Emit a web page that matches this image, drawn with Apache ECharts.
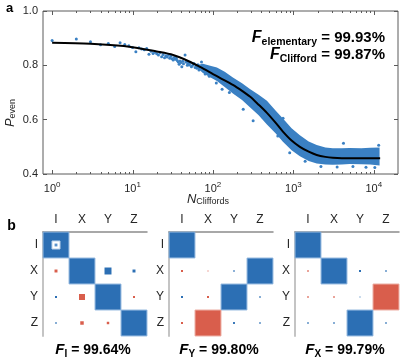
<!DOCTYPE html>
<html>
<head>
<meta charset="utf-8">
<script src="https://cdn.jsdelivr.net/npm/echarts@6/dist/echarts.min.js"></script>
<style>
  html, body { margin: 0; padding: 0; background: #fff; }
  #chart { width: 415px; height: 362px; }
</style>
</head>
<body>
<div id="chart"></div>
<script>
const chart = echarts.init(document.getElementById("chart"));

const FONT = "Liberation Sans, Arial, Helvetica, sans-serif";
const DOT_BLUE = "#3a80c3";
const SQ_BLUE = "#2c6fb4";
const SQ_RED = "#d95e4c";
const AXIS_GREY = "#5a5a5a";

// ---- panel a: randomized benchmarking decay ----
const xMin = 0.77;
const xMax = 20000;
const yTicks = [0.4, 0.6, 0.8, 1.0];

// sparse points at short sequence lengths
const lowN = [1, 2, 3, 4, 5, 6, 7, 8, 9, 10, 11, 12, 13, 14, 15, 16, 17, 18, 19, 20,
  21, 22, 23, 24, 25, 26, 27, 28, 29, 30, 31, 32, 33, 34, 35, 36, 37, 38, 39, 40,
  41, 42, 43, 45, 46, 47, 48, 49, 50, 51, 52, 54, 56, 58, 60, 62, 63, 65, 67, 69];
const lowP = [0.891, 0.897, 0.887, 0.876, 0.880, 0.869, 0.883, 0.877, 0.872, 0.866,
  0.850, 0.865, 0.860, 0.857, 0.862, 0.841, 0.852, 0.844, 0.848, 0.843,
  0.838, 0.846, 0.832, 0.840, 0.828, 0.835, 0.831, 0.838, 0.826, 0.833,
  0.824, 0.820, 0.829, 0.822, 0.826, 0.818, 0.812, 0.804, 0.816, 0.810,
  0.795, 0.815, 0.806, 0.838, 0.812, 0.813, 0.800, 0.808, 0.804, 0.801,
  0.810, 0.795, 0.800, 0.807, 0.792, 0.798, 0.789, 0.802, 0.783, 0.796];

// envelope of the dense cloud at long sequence lengths
const bandN = [62, 75, 90, 112, 140, 177, 230, 288, 370, 469, 600, 741, 950, 1205, 1550,
  1950, 2500, 3090, 4000, 5000, 7000, 9000, 11800];
const bandHi = [0.800, 0.806, 0.799, 0.792, 0.776, 0.755, 0.734, 0.713, 0.692, 0.670, 0.634,
  0.604, 0.568, 0.543, 0.520, 0.507, 0.498, 0.495, 0.495, 0.496, 0.495, 0.497, 0.498];
const bandLo = [0.794, 0.772, 0.758, 0.742, 0.720, 0.696, 0.672, 0.646, 0.616, 0.582, 0.550,
  0.519, 0.487, 0.465, 0.448, 0.439, 0.435, 0.434, 0.435, 0.437, 0.436, 0.435, 0.431];

// stray points sticking out of the cloud
const strayN = [72, 80, 90, 110, 130, 160, 238, 316, 420, 640, 744, 900, 1400,
  2200, 3500, 4200, 5500, 8000, 10300, 11500];
const strayP = [0.812, 0.768, 0.760, 0.735, 0.712, 0.700, 0.638, 0.596, 0.608, 0.540,
  0.605, 0.478, 0.447, 0.428, 0.426, 0.513, 0.428, 0.425, 0.424, 0.506];

// fitted decay curve
const fitN = [1, 3, 10, 20, 32, 50, 69, 100, 122, 177, 230, 288, 370, 469, 600, 741,
  950, 1205, 1550, 1950, 2500, 3090, 5000, 8000, 12000];
const fitP = [0.883, 0.879, 0.867, 0.851, 0.838, 0.815, 0.794, 0.768, 0.754, 0.728,
  0.706, 0.685, 0.655, 0.625, 0.589, 0.556, 0.523, 0.500, 0.482, 0.470, 0.463, 0.460,
  0.458, 0.458, 0.458];

// ---- panel b: process matrices ----
const paulis = ["I", "X", "Y", "Z"];
// [column, row, value]
const chiI = [[0, 0, 0.99], [1, 1, 0.99], [2, 2, 0.99], [3, 3, 0.99],
  [0, 1, -0.013], [2, 1, 0.072], [3, 1, 0.013],
  [0, 2, 0.006], [1, 2, -0.053], [3, 2, -0.006],
  [0, 3, 0.0033], [1, 3, -0.018], [2, 3, -0.009]];
const chiIInner = [[0, 0, 0.095]];
const chiIDot = [[0, 0, 0.012]];
const chiY = [[0, 0, 0.99], [3, 1, 0.99], [2, 2, 0.99], [1, 3, -0.99],
  [0, 1, -0.006], [1, 1, -0.0015], [2, 1, 0.003],
  [0, 2, 0.006], [1, 2, -0.006], [3, 2, 0.0033],
  [0, 3, -0.006], [2, 3, 0.005], [3, 3, 0.0033]];
const chiX = [[0, 0, 0.99], [1, 1, 0.99], [3, 2, -0.99], [2, 3, 0.99],
  [0, 1, -0.0033], [2, 1, 0.006], [3, 1, 0.0033],
  [0, 2, -0.0033], [1, 2, -0.0033], [2, 2, 0.0015],
  [0, 3, 0.0033], [1, 3, 0.0033], [3, 3, 0.0033]];
const gateNames = ["I", "Y", "X"];
const gateFidelity = ["99.64%", "99.80%", "99.79%"];
const fidElementary = "99.93%";
const fidClifford = "99.87%";

const panelLefts = [43, 169, 295];
const CELL = 26;
const panels = [chiI, chiY, chiX];

function squareItems(data) {
  return data.map((d) => {
    const big = Math.abs(d[2]) > 0.5;
    const neg = d[2] < 0;
    return {
      value: d,
      itemStyle: {
        color: neg ? SQ_RED : SQ_BLUE,
        opacity: 1,
        borderColor: big ? (neg ? "#eaa397" : "#8ab2dc") : "transparent",
        borderWidth: big ? 1 : 0,
      },
    };
  });
}

function pts(ns, ps) {
  return ns.map((n, i) => [n, ps[i]]);
}

// tick positions along the log axis (majors + minors)
const majorTicks = [1, 10, 100, 1000, 10000];
const minorTicks = [];
for (let k = 0; k <= 4; k++) {
  for (let m = 2; m <= 9; m++) {
    const v = m * Math.pow(10, k);
    if (v < xMax) minorTicks.push(v);
  }
}

const series = [
  {
    type: "custom",
    xAxisIndex: 0,
    yAxisIndex: 0,
    silent: true,
    data: [0],
    z: 2,
    renderItem: function (params, api) {
      const up = bandN.map((n, i) => api.coord([n, bandHi[i]]));
      const lo = bandN.map((n, i) => api.coord([n, bandLo[i]])).reverse();
      return {
        type: "polygon",
        shape: { points: up.concat(lo) },
        style: { fill: DOT_BLUE },
      };
    },
  },
  {
    type: "scatter",
    xAxisIndex: 0,
    yAxisIndex: 0,
    silent: true,
    symbol: "circle",
    symbolSize: 3,
    itemStyle: { color: DOT_BLUE, opacity: 1 },
    data: pts(lowN, lowP).concat(pts(strayN, strayP)),
    z: 3,
  },
  {
    type: "line",
    xAxisIndex: 0,
    yAxisIndex: 0,
    silent: true,
    showSymbol: false,
    smooth: 0.3,
    lineStyle: { color: "#000", width: 2 },
    data: pts(fitN, fitP),
    z: 4,
  },
  {
    type: "custom",
    xAxisIndex: 0,
    yAxisIndex: 0,
    silent: true,
    z: 5,
    data: majorTicks.map((t) => [t, 4]).concat(minorTicks.map((t) => [t, 2])),
    renderItem: function (params, api) {
      const n = api.value(0);
      const len = api.value(1);
      const b = api.coord([n, 0.4]);
      const t = api.coord([n, 1.0]);
      const x = Math.round(b[0]) + 0.5;
      const st = { stroke: AXIS_GREY, lineWidth: 1 };
      return {
        type: "group",
        children: [
          { type: "line", shape: { x1: x, y1: b[1], x2: x, y2: b[1] - len }, style: st },
          { type: "line", shape: { x1: x, y1: t[1], x2: x, y2: t[1] + len }, style: st },
        ],
      };
    },
  },
];

panels.forEach((data, i) => {
  series.push({
    type: "scatter",
    xAxisIndex: i + 1,
    yAxisIndex: i + 2,
    silent: true,
    symbol: "rect",
    symbolSize: (v) => Math.max(1, CELL * Math.sqrt(Math.abs(v[2]))),
    data: squareItems(data),
    z: 3,
  });
});
series.push({
  type: "scatter",
  xAxisIndex: 1,
  yAxisIndex: 2,
  silent: true,
  symbol: "rect",
  symbolSize: (v) => CELL * Math.sqrt(v[2]),
  itemStyle: { color: "#fff", opacity: 1, borderColor: "#b9d1ea", borderWidth: 1 },
  data: chiIInner,
  z: 4,
});
series.push({
  type: "scatter",
  xAxisIndex: 1,
  yAxisIndex: 2,
  silent: true,
  symbol: "rect",
  symbolSize: (v) => CELL * Math.sqrt(v[2]),
  itemStyle: { color: "#5b93cc", opacity: 1 },
  data: chiIDot,
  z: 5,
});

const catX = panels.map((_, i) => ({
  type: "category",
  gridIndex: i + 1,
  position: "top",
  data: paulis,
  axisLine: { lineStyle: { color: "#8c8c8c", width: 1.5 } },
  axisTick: { inside: true, length: 2, alignWithLabel: true, lineStyle: { color: "#9a9a9a" } },
  axisLabel: { fontSize: 12, color: "#262626", margin: 6, fontFamily: FONT },
  splitLine: { show: false },
}));
const catY = panels.map((_, i) => ({
  type: "category",
  gridIndex: i + 1,
  inverse: true,
  data: paulis,
  axisLine: { lineStyle: { color: "#c4c4c4", width: 2 } },
  axisTick: { length: 2, alignWithLabel: true, lineStyle: { color: "#aaaaaa" } },
  axisLabel: { fontSize: 12, color: "#262626", margin: 5, fontFamily: FONT },
  splitLine: { show: false },
}));

function fText(x, y, sub, val, align, size, subSize) {
  return {
    type: "text",
    x: x,
    y: y,
    z: 10,
    style: {
      text: "{f|F}{s|" + sub + "}{t| = " + val + "}",
      align: align,
      verticalAlign: "middle",
      rich: {
        f: { fontFamily: FONT, fontWeight: "bold", fontStyle: "italic", fontSize: size + 1, fill: "#000" },
        s: { fontFamily: FONT, fontWeight: "bold", fontSize: subSize, fill: "#000", padding: [8, 0, 0, 0] },
        t: { fontFamily: FONT, fontWeight: "bold", fontSize: size, fill: "#000" },
      },
    },
  };
}

const graphics = [
  { type: "text", x: 9.5, y: 8, style: { text: "a", font: "bold 13px " + FONT, fill: "#000", align: "center", verticalAlign: "middle" } },
  { type: "text", x: 11.5, y: 226, style: { text: "b", font: "bold 14px " + FONT, fill: "#000", align: "center", verticalAlign: "middle" } },
  {
    type: "text", x: 10, y: 113, rotation: Math.PI / 2,
    style: {
      text: "{p|P}{s|even}", align: "center", verticalAlign: "middle",
      rich: {
        p: { fontFamily: FONT, fontStyle: "italic", fontSize: 13, fill: "#262626" },
        s: { fontFamily: FONT, fontSize: 9, fill: "#262626", padding: [6, 0, 0, 0] },
      },
    },
  },
  {
    type: "text", x: 208, y: 199,
    style: {
      text: "{p|N}{s|Cliffords}", align: "center", verticalAlign: "middle",
      rich: {
        p: { fontFamily: FONT, fontStyle: "italic", fontSize: 13, fill: "#262626" },
        s: { fontFamily: FONT, fontSize: 9, fill: "#262626", padding: [6, 0, 0, 0] },
      },
    },
  },
  fText(385, 38, "elementary", fidElementary, "right", 15, 10.5),
  fText(385, 55, "Clifford", fidClifford, "right", 15, 10.5),
];
gateNames.forEach((g, i) => {
  graphics.push(fText(panelLefts[i] + 52 - 2, 350, g, gateFidelity[i], "center", 14, 10));
});

const option = {
  animation: false,
  backgroundColor: "#fff",
  textStyle: { fontFamily: FONT },
  grid: [
    { left: 43, top: 11, width: 355, height: 163, show: true, borderColor: AXIS_GREY, borderWidth: 1, containLabel: false },
  ].concat(panelLefts.map((l) => ({ left: l, top: 232, width: 104, height: 104 }))),
  xAxis: [
    {
      type: "log",
      gridIndex: 0,
      logBase: 10,
      min: xMin,
      max: xMax,
      axisLine: { show: false },
      axisTick: { show: false },
      splitLine: { show: false },
      axisLabel: {
        margin: 7,
        showMinLabel: false,
        showMaxLabel: false,
        formatter: function (v) {
          const e = Math.log10(v);
          if (Math.abs(e - Math.round(e)) > 1e-6) return "";
          return "{b|10}{s|" + Math.round(e) + "}";
        },
        rich: {
          b: { fontFamily: FONT, fontSize: 11, color: "#262626" },
          s: { fontFamily: FONT, fontSize: 8, color: "#262626", padding: [0, 0, 7, 0] },
        },
      },
    },
  ].concat(catX),
  yAxis: [
    {
      type: "value",
      gridIndex: 0,
      min: yTicks[0],
      max: yTicks[yTicks.length - 1],
      interval: 0.2,
      axisLine: { show: false },
      axisTick: { show: true, inside: true, length: 4, lineStyle: { color: AXIS_GREY } },
      splitLine: { show: false },
      axisLabel: { fontSize: 11, color: "#262626", margin: 5, fontFamily: FONT, formatter: (v) => v.toFixed(1) },
    },
    {
      type: "value",
      gridIndex: 0,
      position: "right",
      min: yTicks[0],
      max: yTicks[yTicks.length - 1],
      interval: 0.2,
      axisLine: { show: false },
      axisTick: { show: true, inside: true, length: 4, lineStyle: { color: AXIS_GREY } },
      splitLine: { show: false },
      axisLabel: { show: false },
    },
  ].concat(catY),
  series: series,
  graphic: graphics,
};

chart.setOption(option);
</script>
</body>
</html>
